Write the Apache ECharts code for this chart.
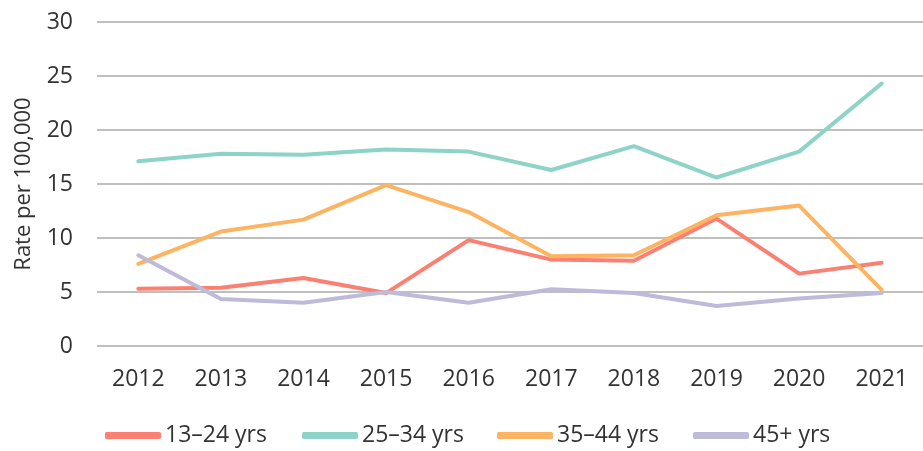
<!DOCTYPE html>
<html lang="en">
<head>
    <meta charset="UTF-8">
    <title>Rate per 100,000 by age group</title>
    <script src="https://cdn.jsdelivr.net/npm/echarts@6/dist/echarts.min.js" type="text/javascript"></script>
    <style>
        html, body { margin: 0; padding: 0; background: #fff; }
    </style>
</head>
<body>
<div id="main" style="width: 923px;height:451px;"></div>
<script type="text/javascript">
    // data
    var years = ['2012', '2013', '2014', '2015', '2016', '2017', '2018', '2019', '2020', '2021'];
    var age13to24 = [5.3, 5.4, 6.3, 4.9, 9.8, 8.0, 7.9, 11.8, 6.7, 7.7];
    var age25to34 = [17.1, 17.8, 17.7, 18.2, 18.0, 16.3, 18.5, 15.6, 18.0, 24.3];
    var age35to44 = [7.6, 10.6, 11.7, 14.9, 12.4, 8.3, 8.4, 12.1, 13.0, 5.2];
    var age45plus = [8.4, 4.35, 4.0, 5.0, 4.0, 5.25, 4.9, 3.7, 4.4, 4.9];
    var seriesNames = ['13–24 yrs', '25–34 yrs', '35–44 yrs', '45+ yrs'];
    var colors = ['#FB8072', '#8DD3C7', '#FDB462', '#BEBADA'];

    var myChart = echarts.init(document.getElementById('main'));
    var font = '"Open Sans", "Noto Sans", sans-serif';
    var textColor = '#333333';

    function makeLine(name, data, color) {
        return {
            name: name,
            type: 'line',
            data: data,
            showSymbol: false,
            symbol: 'none',
            itemStyle: { color: color },
            lineStyle: { color: color, width: 4, cap: 'round', join: 'round' }
        };
    }

    // one legend per item so each sits where it does in the picture
    var legendLeft = [105, 302, 497, 693];
    var legends = [];
    for (var i = 0; i < seriesNames.length; i++) {
        legends.push({
            left: legendLeft[i],
            top: 424,
            padding: 0,
            itemWidth: 56,
            itemHeight: 7,
            itemGap: 0,
            icon: 'roundRect',
            textStyle: { fontFamily: font, fontSize: 23, color: textColor, padding: [0, 0, 0, -1] },
            data: [seriesNames[i]]
        });
    }

    myChart.setOption({
        animation: false,
        textStyle: { fontFamily: font },
        grid: { left: 97, right: 0, top: 22, bottom: 105, outerBoundsMode: 'none' },
        legend: legends,
        xAxis: {
            type: 'category',
            data: years,
            boundaryGap: true,
            axisLine: { show: false },
            axisTick: { show: false },
            axisLabel: { fontFamily: font, fontSize: 23, color: textColor, margin: 22 }
        },
        yAxis: {
            type: 'value',
            min: 0,
            max: 30,
            interval: 5,
            name: 'Rate per 100,000',
            nameLocation: 'middle',
            nameGap: 62,
            nameTextStyle: { fontFamily: font, fontSize: 22, color: textColor },
            axisLine: { show: false },
            axisTick: { show: false },
            axisLabel: { fontFamily: font, fontSize: 23, color: textColor, margin: 24 },
            splitLine: { lineStyle: { color: '#BFBFBF', width: 2 } }
        },
        series: [
            makeLine(seriesNames[0], age13to24, colors[0]),
            makeLine(seriesNames[1], age25to34, colors[1]),
            makeLine(seriesNames[2], age35to44, colors[2]),
            makeLine(seriesNames[3], age45plus, colors[3])
        ]
    });
</script>
</body>
</html>
